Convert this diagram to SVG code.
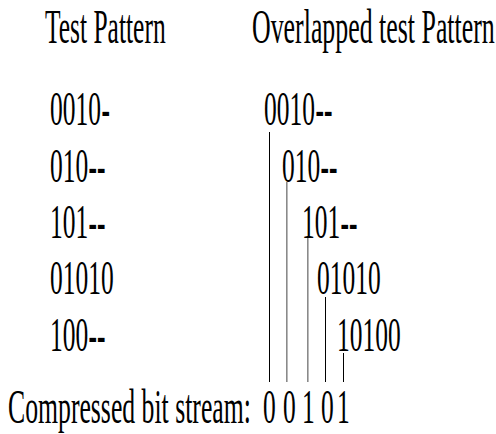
<svg xmlns="http://www.w3.org/2000/svg" width="496" height="434" viewBox="0 0 496 434">
<style>
text{font-family:"Liberation Serif","Times New Roman",serif;font-size:49px;fill:#000}
.d{font-weight:bold}
.k{stroke:#000;stroke-width:1}
.g{stroke:#8a8a8a;stroke-width:1.6}
</style>
<rect width="496" height="434" fill="#fff"/>
<g id="headers">
<text transform="translate(45,43) scale(0.52,1)">Test Pattern</text>
<text transform="translate(252,43) scale(0.528,1)">Overlapped test Pattern</text>
</g>
<g id="test-patterns">
<g id="tp1"><text transform="translate(50,125) scale(0.52,1)">0010</text><text class="d" transform="translate(101.5,125) scale(0.52,1)">-</text></g>
<g id="tp2"><text transform="translate(50,182) scale(0.52,1)">010</text><text class="d" transform="translate(88.5,182) scale(0.52,1)">--</text></g>
<g id="tp3"><text transform="translate(50,238) scale(0.52,1)">101</text><text class="d" transform="translate(88.5,238) scale(0.52,1)">--</text></g>
<g id="tp4"><text transform="translate(50,294) scale(0.52,1)">01010</text></g>
<g id="tp5"><text transform="translate(50,351) scale(0.52,1)">100</text><text class="d" transform="translate(88.5,351) scale(0.52,1)">--</text></g>
</g>
<g id="overlapped-patterns">
<g id="op1"><text transform="translate(264,125) scale(0.52,1)">0010</text><text class="d" transform="translate(315.5,125) scale(0.52,1)">--</text></g>
<g id="op2"><text transform="translate(282,182) scale(0.52,1)">010</text><text class="d" transform="translate(320.5,182) scale(0.52,1)">--</text></g>
<g id="op3"><text transform="translate(302,238) scale(0.52,1)">101</text><text class="d" transform="translate(340.5,238) scale(0.52,1)">--</text></g>
<g id="op4"><text transform="translate(317,294) scale(0.52,1)">01010</text></g>
<g id="op5"><text transform="translate(337,351) scale(0.52,1)">10100</text></g>
</g>
<g id="connectors">
<line class="k" x1="269.5" y1="132" x2="269.5" y2="382"/>
<line class="g" x1="286.8" y1="182" x2="286.8" y2="382"/>
<line class="g" x1="307.8" y1="238" x2="307.8" y2="382"/>
<line class="k" x1="325.5" y1="297" x2="325.5" y2="382"/>
<line class="k" x1="343.5" y1="353" x2="343.5" y2="382"/>
</g>
<g id="compressed-stream">
<text transform="translate(8,423) scale(0.525,1)">Compressed bit stream:</text>
<text transform="translate(263,423) scale(0.52,1)">0</text>
<text transform="translate(283,423) scale(0.52,1)">0</text>
<text transform="translate(302,423) scale(0.52,1)">1</text>
<text transform="translate(321,423) scale(0.52,1)">0</text>
<text transform="translate(337,423) scale(0.52,1)">1</text>
</g>
</svg>
